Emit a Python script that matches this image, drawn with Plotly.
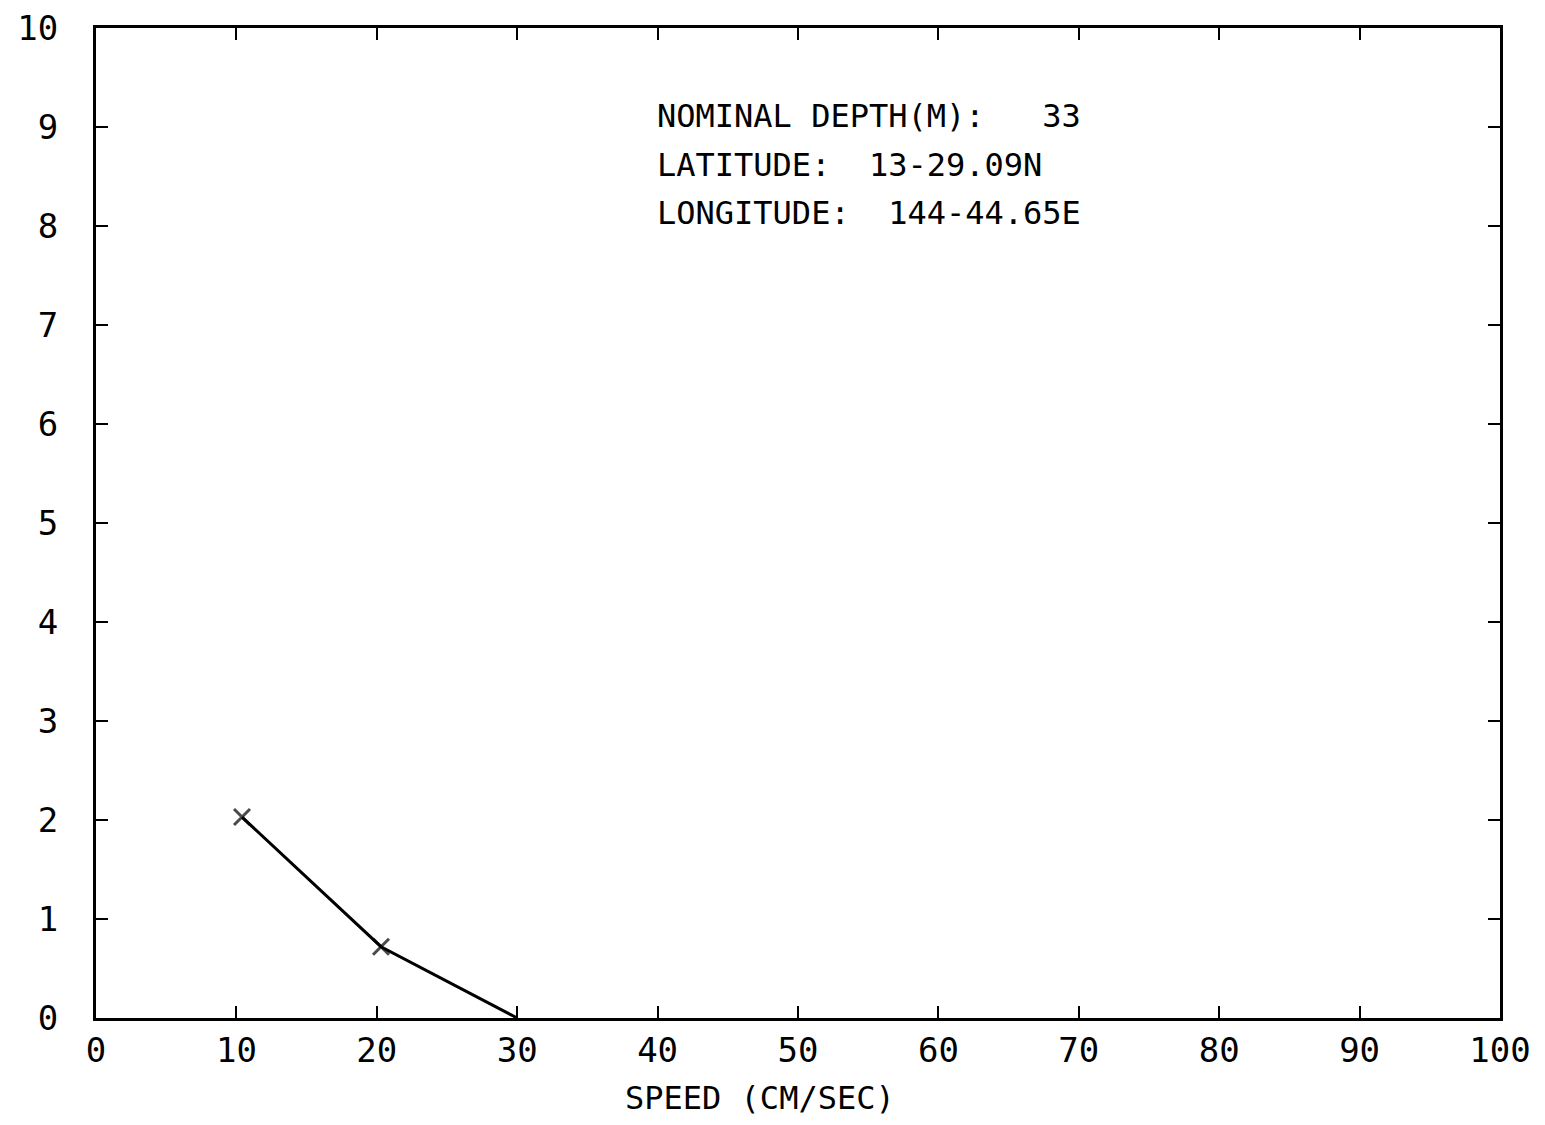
import plotly.graph_objects as go

# Data
speed = [10.4, 20.3, 30.0]          # cm/sec
percent = [2.03, 0.72, 0.0]
marker_sizes = [16, 16, 0]           # last point has no marker

x_ticks = [0, 10, 20, 30, 40, 50, 60, 70, 80, 90, 100]
y_ticks = [0, 1, 2, 3, 4, 5, 6, 7, 8, 9, 10]

info_lines = [
    "NOMINAL DEPTH(M):\u00a0\u00a0\u00a033",
    "LATITUDE:\u00a0\u00a013-29.09N",
    "LONGITUDE:\u00a0\u00a0144-44.65E",
]
info_y = [9.11, 8.62, 8.13]
info_x = 39.8

x_title = "SPEED (CM/SEC)"

MONO = "DejaVu Sans Mono"

fig = go.Figure()
fig.add_trace(go.Scatter(
    x=speed, y=percent,
    mode="lines+markers",
    line=dict(color="black", width=3),
    marker=dict(symbol="x-thin", size=marker_sizes,
                line=dict(color="black", width=3), color="black"),
    showlegend=False,
))

for txt, yy in zip(info_lines, info_y):
    fig.add_annotation(x=info_x, y=yy, xref="x", yref="y", text=txt,
                       showarrow=False, xanchor="left", yanchor="middle",
                       font=dict(family=MONO, size=32, color="black"))

fig.add_annotation(x=0.473, y=-0.081, xref="paper", yref="paper",
                   text=x_title, showarrow=False,
                   xanchor="center", yanchor="middle",
                   font=dict(family=MONO, size=32, color="black"))

axis_common = dict(
    showgrid=False, zeroline=False, showline=True, mirror="ticks",
    linecolor="black", linewidth=3, ticks="inside", tickcolor="black",
    tickwidth=2, ticklen=12, ticklabeloverflow="allow", automargin=False,
    tickfont=dict(family=MONO, size=34, color="black"),
)

fig.update_xaxes(range=[0, 100], tickvals=x_ticks,
                 ticktext=[str(v) for v in x_ticks], **axis_common)
fig.update_yaxes(range=[0, 10], tickvals=y_ticks,
                 ticktext=[str(v) for v in y_ticks],
                 ticklabelstandoff=28, **axis_common)

fig.update_layout(
    width=1530, height=1117,
    margin=dict(l=88, r=38, t=20, b=107, autoexpand=False),
    paper_bgcolor="white", plot_bgcolor="white",
)

fig.write_html("out.html")
